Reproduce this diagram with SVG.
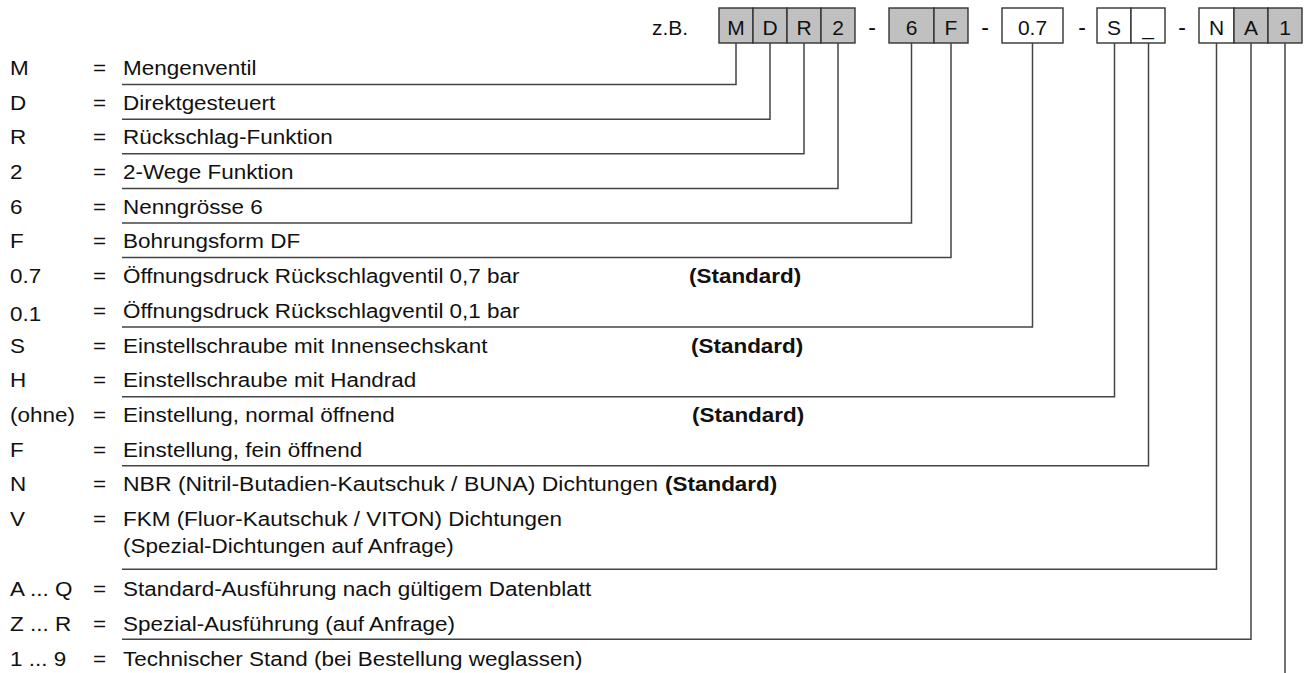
<svg xmlns="http://www.w3.org/2000/svg" width="1305" height="673" viewBox="0 0 1305 673">
<style>
  text { font-family: "Liberation Sans", Arial, sans-serif; font-size: 21px; fill: #111; }
  .b { font-weight: bold; }
  .hd { text-anchor: middle; }
  .dash { text-anchor: middle; font-size: 23px; }
  .box { stroke: #333; stroke-width: 1.4; }
  .g { fill: #c0c0c0; }
  .w { fill: #fff; }
  .con { fill: none; stroke: #444; stroke-width: 1.5; }
</style>
<rect width="1305" height="673" fill="#fff"/>

<g id="header">
  <text x="652" y="35">z.B.</text>
  <g id="box-M"><rect class="box g" x="719" y="8" width="34" height="35"/><text class="hd" x="736" y="35">M</text></g>
  <g id="box-D"><rect class="box g" x="753" y="8" width="34" height="35"/><text class="hd" x="770" y="35">D</text></g>
  <g id="box-R"><rect class="box g" x="787" y="8" width="34" height="35"/><text class="hd" x="804" y="35">R</text></g>
  <g id="box-2"><rect class="box g" x="821" y="8" width="34" height="35"/><text class="hd" x="838" y="35">2</text></g>
  <text class="dash" x="872" y="35">-</text>
  <g id="box-6"><rect class="box g" x="889" y="8" width="45" height="35"/><text class="hd" x="911.5" y="35">6</text></g>
  <g id="box-F"><rect class="box g" x="934" y="8" width="34" height="35"/><text class="hd" x="951" y="35">F</text></g>
  <text class="dash" x="985" y="35">-</text>
  <g id="box-07"><rect class="box w" x="1002" y="8" width="61" height="35"/><text class="hd" x="1032.5" y="35">0.7</text></g>
  <text class="dash" x="1082" y="35">-</text>
  <g id="box-S"><rect class="box w" x="1097" y="8" width="34" height="35"/><text class="hd" x="1114" y="35">S</text></g>
  <g id="box-U"><rect class="box w" x="1131" y="8" width="34" height="35"/><text class="hd" x="1148" y="35">_</text></g>
  <text class="dash" x="1182" y="35">-</text>
  <g id="box-N"><rect class="box w" x="1199" y="8" width="35" height="35"/><text class="hd" x="1216.5" y="35">N</text></g>
  <g id="box-A"><rect class="box g" x="1234" y="8" width="34" height="35"/><text class="hd" x="1251" y="35">A</text></g>
  <g id="box-1"><rect class="box g" x="1268" y="8" width="34" height="35"/><text class="hd" x="1285" y="35">1</text></g>
</g>

<g id="connectors">
  <path class="con" d="M122 84.5 H736 V43"/>
  <path class="con" d="M122 119.2 H770 V43"/>
  <path class="con" d="M122 153.8 H804 V43"/>
  <path class="con" d="M122 188.4 H838 V43"/>
  <path class="con" d="M122 223 H911.5 V43"/>
  <path class="con" d="M122 257.6 H951 V43"/>
  <path class="con" d="M122 327 H1032.5 V43"/>
  <path class="con" d="M122 396.7 H1114.5 V43"/>
  <path class="con" d="M122 465.8 H1148.5 V43"/>
  <path class="con" d="M122 569.3 H1216.5 V43"/>
  <path class="con" d="M122 639.3 H1251 V43"/>
  <path class="con" d="M1285 43 V673"/>
</g>

<g id="legend" transform="scale(1.07 1)">
  <g id="row-M"><text x="9.35" y="75">M</text><text x="86.9" y="75">=</text><text x="114.95" y="75">Mengenventil</text></g>
  <g id="row-D"><text x="9.35" y="109.7">D</text><text x="86.9" y="109.7">=</text><text x="114.95" y="109.7">Direktgesteuert</text></g>
  <g id="row-R"><text x="9.35" y="144.4">R</text><text x="86.9" y="144.4">=</text><text x="114.95" y="144.4">Rückschlag-Funktion</text></g>
  <g id="row-2"><text x="9.35" y="179.1">2</text><text x="86.9" y="179.1">=</text><text x="114.95" y="179.1">2-Wege Funktion</text></g>
  <g id="row-6"><text x="9.35" y="213.8">6</text><text x="86.9" y="213.8">=</text><text x="114.95" y="213.8">Nenngrösse 6</text></g>
  <g id="row-F"><text x="9.35" y="248.5">F</text><text x="86.9" y="248.5">=</text><text x="114.95" y="248.5">Bohrungsform DF</text></g>
  <g id="row-07"><text x="9.35" y="283.2">0.7</text><text x="86.9" y="283.2">=</text><text x="114.95" y="283.2">Öffnungsdruck Rückschlagventil 0,7 bar</text><text class="b" x="643.9" y="283.2">(Standard)</text></g>
  <g id="row-01"><text x="9.35" y="321">0.1</text><text x="86.9" y="317.9">=</text><text x="114.95" y="317.9">Öffnungsdruck Rückschlagventil 0,1 bar</text></g>
  <g id="row-S"><text x="9.35" y="352.6">S</text><text x="86.9" y="352.6">=</text><text x="114.95" y="352.6">Einstellschraube mit Innensechskant</text><text class="b" x="645.8" y="352.6">(Standard)</text></g>
  <g id="row-H"><text x="9.35" y="387.3">H</text><text x="86.9" y="387.3">=</text><text x="114.95" y="387.3">Einstellschraube mit Handrad</text></g>
  <g id="row-ohne"><text x="9.35" y="422">(ohne)</text><text x="86.9" y="422">=</text><text x="114.95" y="422">Einstellung, normal öffnend</text><text class="b" x="646.7" y="422">(Standard)</text></g>
  <g id="row-F2"><text x="9.35" y="456.7">F</text><text x="86.9" y="456.7">=</text><text x="114.95" y="456.7">Einstellung, fein öffnend</text></g>
  <g id="row-N"><text x="9.35" y="491.4">N</text><text x="86.9" y="491.4">=</text><text x="114.95" y="491.4" textLength="500" lengthAdjust="spacingAndGlyphs">NBR (Nitril-Butadien-Kautschuk / BUNA) Dichtungen</text><text class="b" x="621.5" y="491.4">(Standard)</text></g>
  <g id="row-V"><text x="9.35" y="526.1">V</text><text x="86.9" y="526.1">=</text><text x="114.95" y="526.1">FKM (Fluor-Kautschuk / VITON) Dichtungen</text><text x="114.95" y="553">(Spezial-Dichtungen auf Anfrage)</text></g>
  <g id="row-AQ"><text x="9.35" y="596">A ... Q</text><text x="86.9" y="596">=</text><text x="114.95" y="596">Standard-Ausführung nach gültigem Datenblatt</text></g>
  <g id="row-ZR"><text x="9.35" y="631">Z ... R</text><text x="86.9" y="631">=</text><text x="114.95" y="631">Spezial-Ausführung (auf Anfrage)</text></g>
  <g id="row-19"><text x="9.35" y="666">1 ... 9</text><text x="86.9" y="666">=</text><text x="114.95" y="666">Technischer Stand (bei Bestellung weglassen)</text></g>
</g>
</svg>
